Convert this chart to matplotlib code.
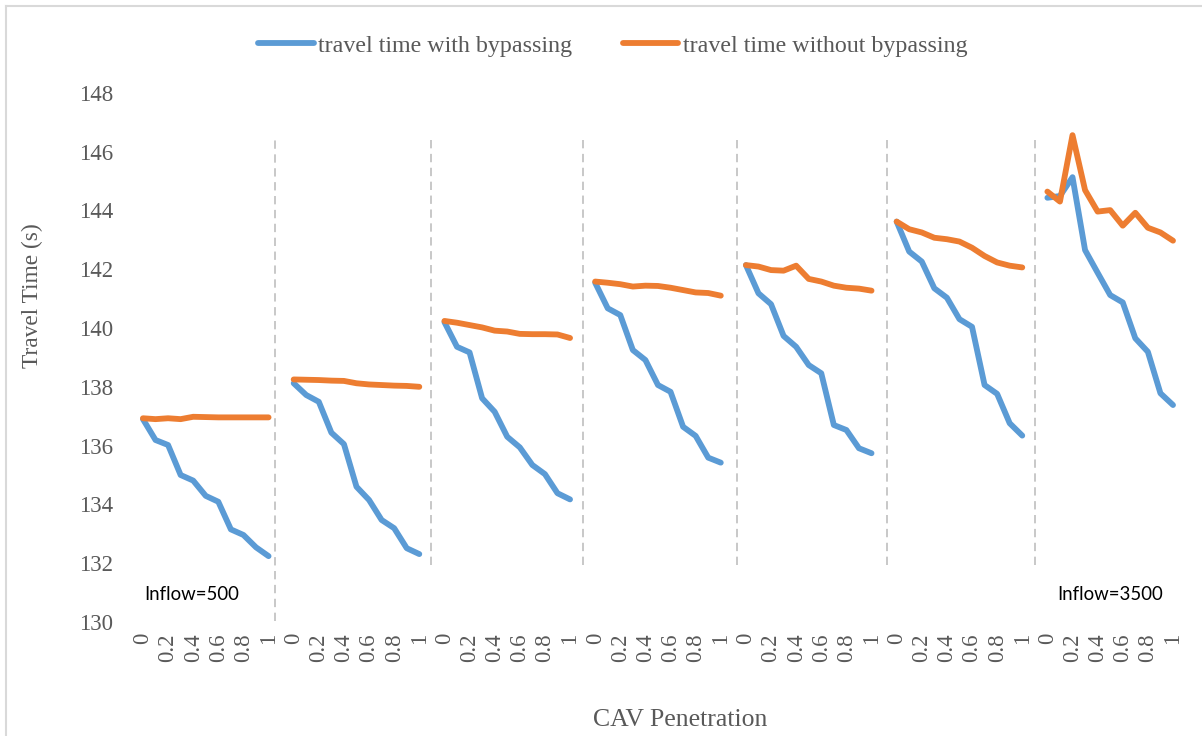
import matplotlib
matplotlib.use('Agg')
from matplotlib import pyplot as plt
from matplotlib.lines import Line2D

# CAV penetration levels inside each inflow block
penetration = [0, 0.1, 0.2, 0.3, 0.4, 0.5, 0.6, 0.7, 0.8, 0.9, 1.0]
inflows = [500, 1000, 1500, 2000, 2500, 3000, 3500]

# travel time (s) with bypassing, one list per inflow
with_bypass = [
    [136.90, 136.19, 136.02, 135.00, 134.81, 134.29, 134.09, 133.15, 132.96, 132.54, 132.24],
    [138.12, 137.72, 137.49, 136.44, 136.05, 134.60, 134.15, 133.47, 133.19, 132.51, 132.31],
    [140.20, 139.36, 139.17, 137.61, 137.15, 136.30, 135.94, 135.34, 135.03, 134.38, 134.17],
    [141.54, 140.67, 140.44, 139.25, 138.91, 138.06, 137.83, 136.64, 136.33, 135.59, 135.42],
    [142.14, 141.18, 140.81, 139.73, 139.36, 138.74, 138.46, 136.70, 136.53, 135.91, 135.74],
    [143.62, 142.60, 142.26, 141.35, 141.03, 140.30, 140.04, 138.06, 137.76, 136.76, 136.34],
    [144.43, 144.49, 145.13, 142.65, 141.88, 141.12, 140.87, 139.65, 139.19, 137.78, 137.38],
]

# travel time (s) without bypassing
without_bypass = [
    [136.93, 136.90, 136.93, 136.90, 136.98, 136.97, 136.96, 136.96, 136.96, 136.96, 136.96],
    [138.25, 138.24, 138.23, 138.21, 138.20, 138.12, 138.08, 138.06, 138.04, 138.03, 138.00],
    [140.24, 140.18, 140.10, 140.02, 139.91, 139.88, 139.80, 139.79, 139.79, 139.78, 139.66],
    [141.58, 141.54, 141.49, 141.41, 141.44, 141.43, 141.37, 141.29, 141.21, 141.19, 141.10],
    [142.14, 142.09, 141.97, 141.95, 142.12, 141.67, 141.58, 141.44, 141.37, 141.34, 141.27],
    [143.62, 143.36, 143.25, 143.07, 143.02, 142.94, 142.73, 142.45, 142.23, 142.12, 142.06],
    [144.64, 144.30, 146.56, 144.69, 143.96, 144.01, 143.48, 143.92, 143.41, 143.25, 142.97],
]

BLUE = '#5B9BD5'
ORANGE = '#ED7D31'
GREY_TXT = '#595959'
LW = 4.2

plt.rcParams['font.family'] = ['Liberation Serif', 'DejaVu Serif']
plt.rcParams['lines.scale_dashes'] = False

fig = plt.figure(figsize=(12.02, 7.36), dpi=100)
ax = fig.add_axes([0.1137, 0.1549, 0.8674, 0.7190])

# each inflow block takes 11 categories plus one empty slot
step = len(penetration) + 1
ticks, labels = [], []
for g in range(len(inflows)):
    xs = [g * step + i for i in range(len(penetration))]
    ax.plot(xs, with_bypass[g], color=BLUE, lw=LW,
            solid_capstyle='round', solid_joinstyle='round', zorder=3)
    ax.plot(xs, without_bypass[g], color=ORANGE, lw=LW,
            solid_capstyle='round', solid_joinstyle='round', zorder=4)
    for i, p in enumerate(penetration):
        if i % 2 == 0:
            ticks.append(xs[i])
            labels.append('%g' % p)

# dashed separators between the inflow blocks
seps = [10.5, 22.9, 35.0, 47.3, 59.2, 71.0]
for k, sx in enumerate(seps):
    y0 = 130.05 if k == 0 else 131.95
    ax.plot([sx, sx], [y0, 146.45], color='#BFBFBF', lw=1.2,
            dashes=(6, 4), zorder=1)

ax.set_xlim(-0.5, len(inflows) * step - 1.5)
ax.set_ylim(130, 148)
ax.set_yticks(range(130, 149, 2))
ax.set_xticks(ticks)
ax.set_xticklabels(labels, rotation=90, va='top', ha='center')

for s in ax.spines.values():
    s.set_visible(False)
ax.tick_params(axis='both', length=0, labelsize=16.5, labelcolor=GREY_TXT)
ax.tick_params(axis='y', pad=17)
ax.tick_params(axis='x', pad=8)

fig.text(32 / 1202, 1 - 296 / 736, 'Travel Time (s)', fontsize=16.8,
         color=GREY_TXT, rotation=90, ha='center', va='center')
fig.text(0.566, 0.022, 'CAV Penetration', fontsize=18.5, color=GREY_TXT,
         ha='center', va='center')

ax.text(0.08, 130.95, 'Inflow=%d' % inflows[0], family='Lato', fontsize=13.4,
        ha='left', va='center', color='black')
ax.text(81.2, 130.95, 'Inflow=%d' % inflows[-1], family='Lato', fontsize=13.4,
        ha='right', va='center', color='black')

handles = [Line2D([], [], color=BLUE, lw=LW, solid_capstyle='round'),
           Line2D([], [], color=ORANGE, lw=LW, solid_capstyle='round')]
leg = fig.legend(handles, ['travel time with bypassing', 'travel time without bypassing'],
                 loc='center', bbox_to_anchor=(0.51, 0.938), ncol=2, frameon=False,
                 fontsize=17.3, handlelength=2.3, handletextpad=0.2,
                 columnspacing=2.1)
for t in leg.get_texts():
    t.set_color(GREY_TXT)

# chart-area border (left and top edges fall inside the image)
fig.add_artist(Line2D([5.5 / 1202, 5.5 / 1202], [0, 1 - 5.5 / 736],
                      transform=fig.transFigure, color='#D9D9D9', lw=1.5))
fig.add_artist(Line2D([5.5 / 1202, 1], [1 - 5.5 / 736, 1 - 5.5 / 736],
                      transform=fig.transFigure, color='#D9D9D9', lw=1.5))

plt.savefig('out.png', dpi=100)
